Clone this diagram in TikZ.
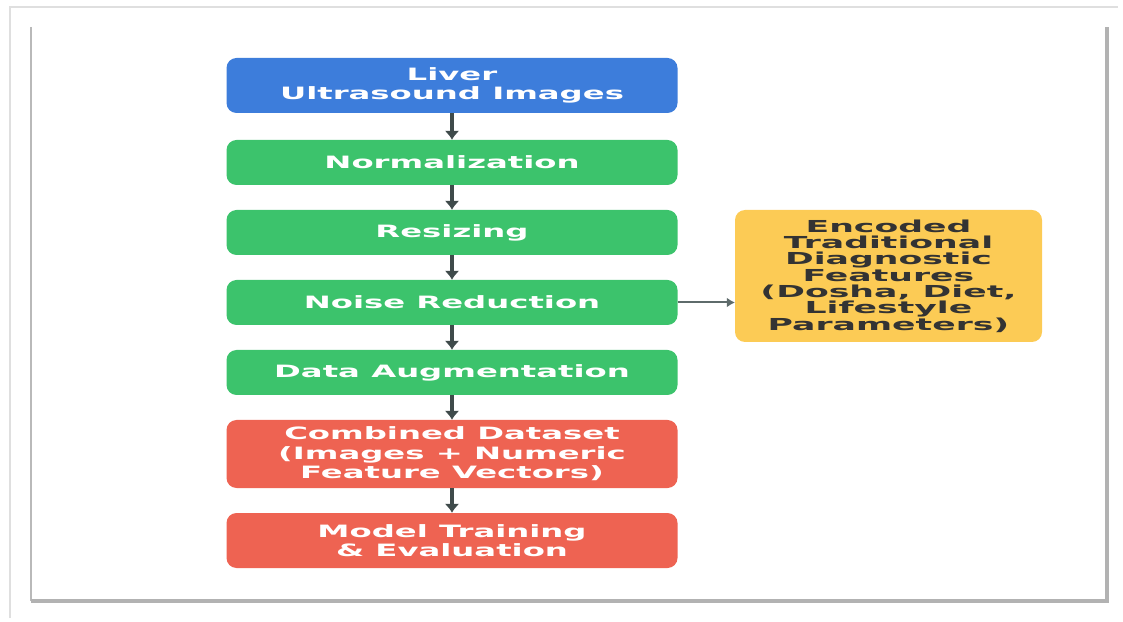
\documentclass[tikz,border=0pt]{standalone}
\usepackage{fontspec}
\usetikzlibrary{arrows.meta}
\newfontfamily\stagefont{DejaVu Sans}[FakeStretch=1.9]
\newfontfamily\featfont{DejaVu Sans}[FakeStretch=2.1]
\definecolor{srcblue}{HTML}{3D7DDB}
\definecolor{prepgreen}{HTML}{3CC36C}
\definecolor{trainred}{HTML}{EE6352}
\definecolor{featyellow}{HTML}{FCCB55}
\definecolor{flowgray}{HTML}{3F4B4B}
\definecolor{sidegray}{HTML}{5E6B6B}

\begin{document}
\begin{tikzpicture}[x=1pt, y=1pt,
    stage/.style={rounded corners=10pt, minimum width=451pt, inner sep=0pt,
        align=center, text=white, font=\stagefont\bfseries\fontsize{17}{19.5}\selectfont},
    feat/.style={rounded corners=10pt, minimum width=307pt, minimum height=132pt,
        inner sep=0pt, align=center, text=black!80, fill=featyellow,
        font=\featfont\bfseries\fontsize{16.5}{16.3}\selectfont},
    flow/.style={-{Latex[length=9pt, width=15pt]}, line width=3.5pt, flowgray}]
    % Page size: 1 unit = 1 pixel of the 1123 x 621 picture
    \useasboundingbox (0,0) rectangle (1123,621);

    % Outer frame (light) and inner framed panel with shadow
    \draw[gray!25, line width=1.5pt] (10,3) -- (10,614) -- (1118,614);
    \draw[gray!55, line width=2.5pt] (31,594) -- (31,20);
    \draw[gray!60, line width=4pt] (31,20) -- (1107,20) -- (1107,594);

    % Pipeline stages
    \node[stage, fill=srcblue, minimum height=55pt] (src) at (452, 535.5)
        {Liver\\Ultrasound Images};
    \node[stage, fill=prepgreen, minimum height=45pt] (norm) at (452, 458.5)
        {Normalization};
    \node[stage, fill=prepgreen, minimum height=45pt] (resize) at (452, 388.5)
        {Resizing};
    \node[stage, fill=prepgreen, minimum height=45pt] (noise) at (452, 318.5)
        {Noise Reduction};
    \node[stage, fill=prepgreen, minimum height=45pt] (augment) at (452, 248.5)
        {Data Augmentation};
    \node[stage, fill=trainred, minimum height=68pt] (combined) at (452, 167)
        {Combined Dataset\\(Images + Numeric\\Feature Vectors)};
    \node[stage, fill=trainred, minimum height=55pt] (model) at (452, 80.5)
        {Model Training\\\& Evaluation};

    % Side input: traditional features
    \node[feat] (trad) at (888.5, 345)
        {Encoded\\Traditional\\Diagnostic\\Features\\(Dosha, Diet,\\Lifestyle\\Parameters)};

    % Arrows down the pipeline
    \draw[flow] (src) -- (norm);
    \draw[flow] (norm) -- (resize);
    \draw[flow] (resize) -- (noise);
    \draw[flow] (noise) -- (augment);
    \draw[flow] (augment) -- (combined);
    \draw[flow] (combined) -- (model);

    % Arrow to the side box
    \draw[-{Latex[length=8pt, width=10pt]}, line width=2pt, sidegray]
        (noise.east) -- (noise.east -| trad.west);
\end{tikzpicture}
\end{document}
